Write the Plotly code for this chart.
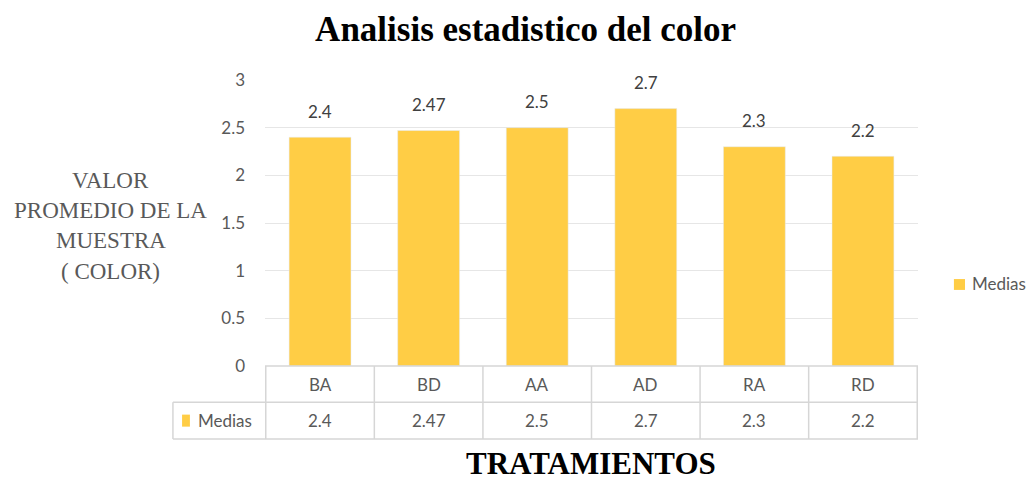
import plotly.graph_objects as go

categories = ["BA", "BD", "AA", "AD", "RA", "RD"]
medias = [2.4, 2.47, 2.5, 2.7, 2.3, 2.2]
value_labels = ["2.4", "2.47", "2.5", "2.7", "2.3", "2.2"]
series_name = "Medias"
y_ticks = [0, 0.5, 1, 1.5, 2, 2.5, 3]
y_tick_labels = ["0", "0.5", "1", "1.5", "2", "2.5", "3"]
y_title_lines = ["VALOR", "PROMEDIO DE LA", "MUESTRA", "( COLOR)"]

BAR = "#FFCD45"
GRID = "#E6E6E6"
TABLE = "#D6D6D6"
TXT = "#595959"
SANS = "Lato, Calibri, 'Open Sans', sans-serif"
SERIF = "'Liberation Serif', 'Times New Roman', serif"
FS = 17

fig = go.Figure()
fig.add_trace(go.Bar(
    x=categories, y=medias, name=series_name, marker_color=BAR,
    width=0.57, showlegend=False,
))

shapes = []
annotations = []
# data labels above the bars
for c, v, lab in zip(categories, medias, value_labels):
    annotations.append(dict(x=c, y=v, xref="x", yref="y", text=lab, showarrow=False,
                            xanchor="center", yanchor="middle", yshift=26,
                            font=dict(family=SANS, size=FS, color="#404040")))

# data table under the plot
row1 = -0.127   # bottom of category row (paper)
row2 = -0.255   # bottom of value row (paper)
left_paper = -0.141
shapes.append(dict(type="line", xref="paper", yref="paper", x0=0, x1=1, y0=0, y1=0,
                   line=dict(color=TABLE, width=1.5)))
for yy in (row1, row2):
    shapes.append(dict(type="line", xref="paper", yref="paper", x0=left_paper, x1=1,
                       y0=yy, y1=yy, line=dict(color=TABLE, width=1.5)))
shapes.append(dict(type="line", xref="paper", yref="paper", x0=left_paper, x1=left_paper,
                   y0=row1, y1=row2, line=dict(color=TABLE, width=1.5)))
for i in range(len(categories) + 1):
    shapes.append(dict(type="line", xref="x", yref="paper", x0=i - 0.5, x1=i - 0.5,
                       y0=0, y1=row2, line=dict(color=TABLE, width=1.5)))
mid1 = row1 / 2
mid2 = (row1 + row2) / 2
for c, v in zip(categories, value_labels):
    annotations.append(dict(x=c, y=mid1, xref="x", yref="paper", text=c,
                            xanchor="center", yanchor="middle", showarrow=False,
                            font=dict(family=SANS, size=FS, color=TXT)))
    annotations.append(dict(x=c, y=mid2, xref="x", yref="paper", text=v,
                            xanchor="center", yanchor="middle", showarrow=False,
                            font=dict(family=SANS, size=FS, color=TXT)))
shapes.append(dict(type="rect", xref="paper", yref="paper", x0=-0.127, x1=-0.115,
                   y0=mid2 - 0.021, y1=mid2 + 0.021,
                   fillcolor=BAR, line=dict(width=0)))
annotations.append(dict(x=-0.105, y=mid2, xref="paper", yref="paper",
                        text=series_name, xanchor="left", yanchor="middle", showarrow=False,
                        font=dict(family=SANS, size=FS, color=TXT)))

# legend (right)
shapes.append(dict(type="rect", xref="paper", yref="paper", x0=1.055, x1=1.072,
                   y0=0.266, y1=0.304, fillcolor=BAR, line=dict(width=0)))
annotations.append(dict(x=1.080, y=0.287, xref="paper", yref="paper",
                        text=series_name, xanchor="left", yanchor="middle", showarrow=False,
                        font=dict(family=SANS, size=FS, color=TXT)))

# y-axis title (horizontal, one line per annotation)
for line, yy in zip(y_title_lines, [0.649, 0.544, 0.439, 0.332]):
    annotations.append(dict(x=-0.236, y=yy, xref="paper", yref="paper", text=line,
                            showarrow=False, xanchor="center", yanchor="middle",
                            font=dict(family=SERIF, size=23, color=TXT)))
# x-axis title
annotations.append(dict(x=0.499, y=-0.342, xref="paper", yref="paper",
                        text="<b>TRATAMIENTOS</b>", showarrow=False,
                        xanchor="center", yanchor="middle",
                        font=dict(family=SERIF, size=31, color="#000000")))

fig.update_layout(
    width=1027, height=473,
    margin=dict(l=257, r=117, t=72, b=115, autoexpand=False),
    paper_bgcolor="white", plot_bgcolor="white",
    title=dict(text="<b>Analisis estadistico del color</b>", x=0.504, xanchor="center",
               y=0.956, yanchor="middle", font=dict(family=SERIF, size=35, color="#000000")),
    xaxis=dict(showticklabels=False, showgrid=False, zeroline=False, showline=False,
               ticks=""),
    yaxis=dict(range=[0, 3], tickvals=y_ticks, ticktext=y_tick_labels,
               showgrid=True, gridcolor=GRID, gridwidth=1, zeroline=False,
               showline=False, ticks="", ticklabelstandoff=19,
               tickfont=dict(family=SANS, size=FS, color=TXT)),
    showlegend=False,
    shapes=shapes, annotations=annotations,
)

fig.write_html("out.html")
